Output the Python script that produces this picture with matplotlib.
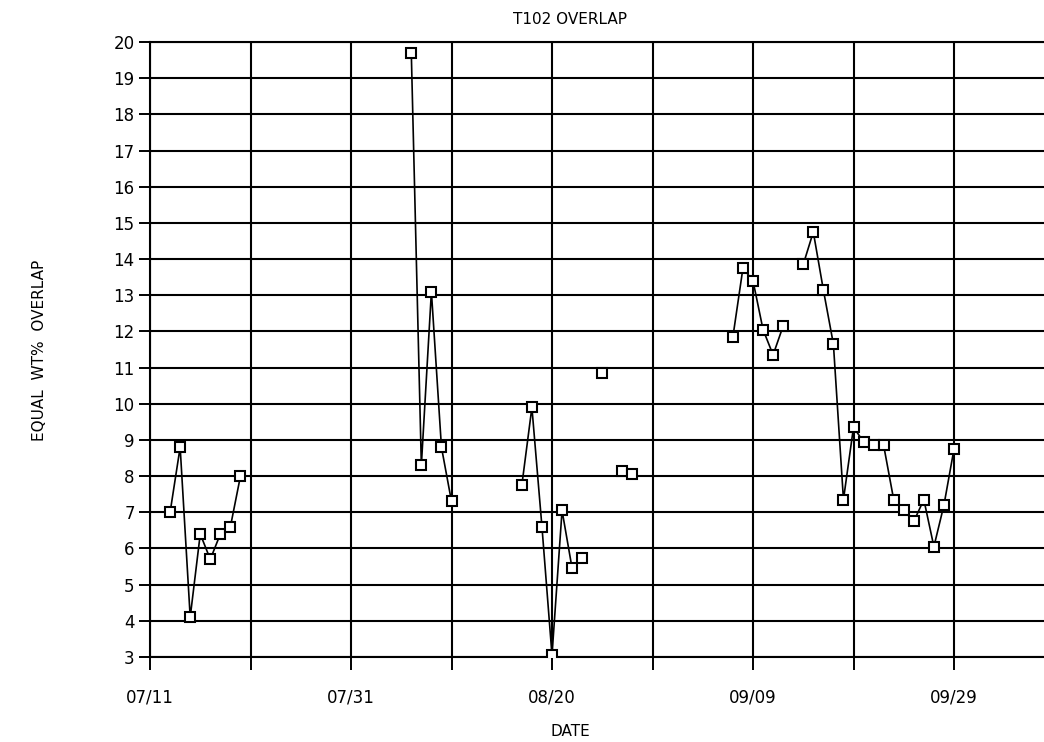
import numpy as np
import matplotlib.pyplot as plt

# days after 07/11 and the overlap readings for each sample day
days = [2, 3, 4, 5, 6, 7, 8, 9,
        26, 27, 28, 29, 30,
        37, 38, 39, 40, 41, 42, 43,
        45,
        47, 48,
        58, 59, 60, 61, 62, 63,
        65, 66, 67, 68, 69, 70, 71, 72, 73, 74, 75, 76, 77, 78, 79, 80]
overlap = [7.0, 8.8, 4.1, 6.4, 5.7, 6.4, 6.6, 8.0,
           19.7, 8.3, 13.1, 8.8, 7.3,
           7.75, 9.9, 6.6, 3.05, 7.05, 5.45, 5.75,
           10.85,
           8.15, 8.05,
           11.85, 13.75, 13.4, 12.05, 11.35, 12.15,
           13.85, 14.75, 13.15, 11.65, 7.35, 9.35, 8.95, 8.85, 8.85,
           7.35, 7.05, 6.75, 7.35, 6.05, 7.2, 8.75]

tick_days = [0, 20, 40, 60, 80]
tick_labels = ['07/11', '07/31', '08/20', '09/09', '09/29']

# break the line wherever a day is missing
x = []
y = []
for i, (d, v) in enumerate(zip(days, overlap)):
    if i > 0 and d - days[i - 1] > 1:
        x.append(np.nan)
        y.append(np.nan)
    x.append(d)
    y.append(v)

plt.rcParams['font.family'] = ['Liberation Sans Narrow', 'DejaVu Sans']

fig = plt.figure(figsize=(10.44, 7.42), dpi=100)
ax = fig.add_axes([150 / 1044, 85 / 742, 904.5 / 1044, 615 / 742])

ax.plot(x, y, color='black', lw=1.2, marker='s', ms=7.5,
        mfc='white', mec='black', mew=1.5, zorder=3)

ax.set_xlim(0, 90)
ax.set_ylim(3, 20)
ax.set_yticks(range(3, 21))
ax.set_xticks(range(0, 91, 10))
ax.set_xticklabels([tick_labels[tick_days.index(t)] if t in tick_days else ''
                    for t in range(0, 91, 10)])

ax.grid(True, color='black', lw=1.5)
ax.spines['right'].set_visible(False)
for side in ['left', 'top', 'bottom']:
    ax.spines[side].set_linewidth(1.5)
ax.tick_params(axis='y', length=8, width=1.4, pad=3, labelsize=12)
ax.tick_params(axis='x', length=9, width=1.4, pad=14, labelsize=12)

fig.text(570 / 1044, 1 - 20 / 742, 'T102 OVERLAP', ha='center', va='center', fontsize=11)
fig.text(570 / 1044, 1 - 731 / 742, 'DATE', ha='center', va='center', fontsize=11)
fig.text(40 / 1044, 1 - 350 / 742, 'EQUAL  WT%  OVERLAP', ha='center', va='center',
         rotation=90, fontsize=11)

fig.savefig('out.png', dpi=100)
